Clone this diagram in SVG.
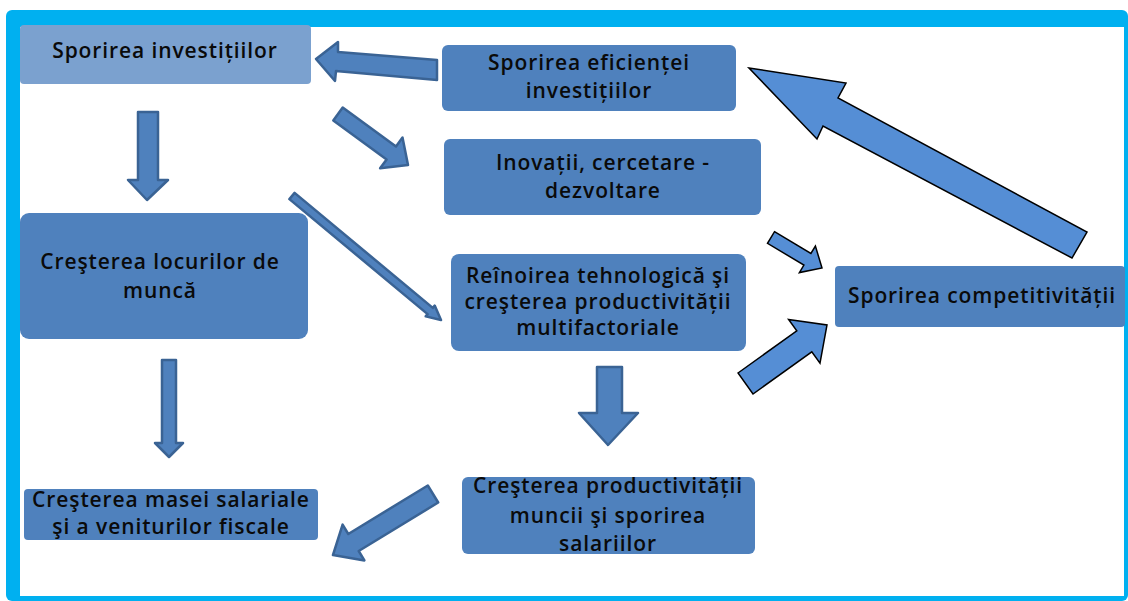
<svg xmlns="http://www.w3.org/2000/svg" width="1128" height="601" viewBox="0 0 1128 601">
<defs>
<style>
.node{fill:#4F81BD;}
.light{fill:#7BA1CF;}
.t{font-family:"Open Sans","Noto Sans","Liberation Sans",sans-serif;font-weight:600;font-size:21px;letter-spacing:0.9px;fill:#0a0a0a;text-anchor:middle;}
.da{fill:#4F81BD;stroke:#3A6394;stroke-width:2.5;stroke-linejoin:round;}
.la{fill:#558ED5;stroke:#000;stroke-width:1.5;stroke-linejoin:miter;}
</style>
</defs>
<g id="frame">
<rect x="6" y="10" width="1122" height="591" rx="6" fill="#00B0F0"/>
<rect x="20" y="27" width="1104" height="569" fill="#FFFFFF"/>
</g>
<g id="connectors">
<polygon class="da" points="316,59 338,42 338,52 437,60 437,80 336,71 335,81"/>
<polygon class="da" points="342.7,107.5 396,146.4 402.5,137.5 408,165 380.1,168.3 386.6,159.4 333.3,120.5"/>
<polygon class="da" points="138,112 158,112 158,180 168,180 147,200 128,180 138,180"/>
<polygon class="da" points="294.6,192.9 432.8,307.9 434.7,305.6 441,320 425.7,316.4 427.6,314.1 289.4,199.1"/>
<polygon class="da" points="162,360 176,360 176,443 183,443 169,457 155,443 162,443"/>
<polygon class="da" points="597,367 622,367 622,413 638,413 608,445 579,413 597,413"/>
<polygon class="da" points="427.8,485.5 348.3,534 342.6,524.6 333,555 364.4,560.4 358.7,551 438.2,502.5"/>
<polygon class="la" points="774.5,231.7 810.9,253.5 815.4,246 822,268 799.4,272.6 803.9,265.1 767.5,243.3"/>
<polygon class="la" points="738,373 796.8,330.8 788.6,319.4 827,325 820,363.2 811.8,351.8 753,394"/>
<polygon class="la" points="749,68 846,83 838,98 1087,232 1072,258 823,126 817,139"/>
</g>
<g id="n1">
<rect class="light" x="20" y="25" width="291" height="59" rx="4"/>
<text class="t" x="165" y="58">Sporirea investițiilor</text>
</g>
<g id="n2">
<rect class="node" x="442" y="45" width="294" height="66" rx="6"/>
<text class="t" x="589" y="70">Sporirea eficienței</text>
<text class="t" x="589" y="98">investițiilor</text>
</g>
<g id="n3">
<rect class="node" x="444" y="139" width="317" height="76" rx="6"/>
<text class="t" x="603" y="170">Inovații, cercetare -</text>
<text class="t" x="603" y="198">dezvoltare</text>
</g>
<g id="n4">
<rect class="node" x="20" y="213" width="288" height="126" rx="9"/>
<text class="t" x="160" y="269">Creşterea locurilor de</text>
<text class="t" x="160" y="298">muncă</text>
</g>
<g id="n5">
<rect class="node" x="451" y="254" width="295" height="97" rx="8"/>
<text class="t" x="598" y="283">Reînoirea tehnologică şi</text>
<text class="t" x="598" y="309">creşterea productivității</text>
<text class="t" x="598" y="335">multifactoriale</text>
</g>
<g id="n6">
<rect class="node" x="835" y="266" width="290" height="61" rx="4"/>
<text class="t" x="982" y="303">Sporirea competitivității</text>
</g>
<g id="n7">
<rect class="node" x="24" y="489" width="294" height="51" rx="4"/>
<text class="t" x="171" y="507">Creşterea masei salariale</text>
<text class="t" x="171" y="534">şi a veniturilor fiscale</text>
</g>
<g id="n8">
<rect class="node" x="462" y="477" width="293" height="77" rx="6"/>
<text class="t" x="608" y="493">Creşterea productivității</text>
<text class="t" x="608" y="523">muncii şi sporirea</text>
<text class="t" x="608" y="551">salariilor</text>
</g>
</svg>
